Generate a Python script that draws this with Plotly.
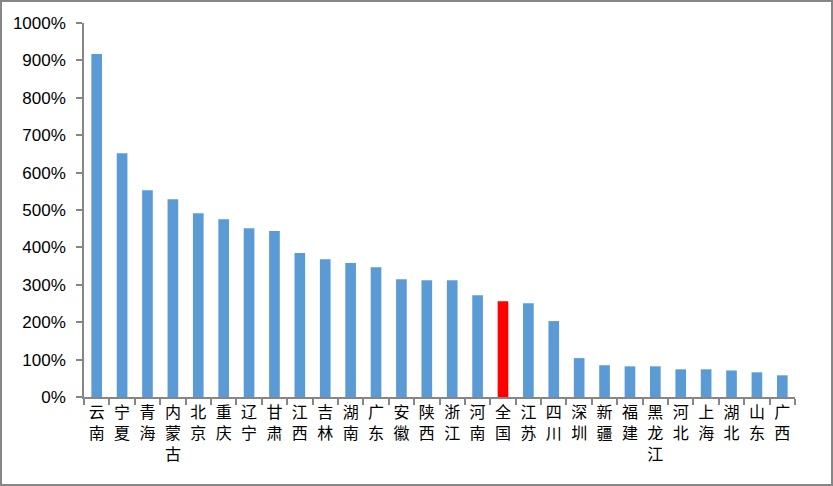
import plotly.graph_objects as go

categories = ["云南", "宁夏", "青海", "内蒙古", "北京", "重庆", "辽宁", "甘肃", "江西", "吉林",
              "湖南", "广东", "安徽", "陕西", "浙江", "河南", "全国", "江苏", "四川", "深圳",
              "新疆", "福建", "黑龙江", "河北", "上海", "湖北", "山东", "广西"]
values = [917, 652, 553, 529, 491, 475, 451, 444, 385, 368,
          358, 347, 315, 312, 312, 272, 256, 251, 203, 104,
          85, 82, 82, 74, 74, 71, 66, 58]
highlight = "全国"

colors = ["#FF0000" if c == highlight else "#5B9BD5" for c in categories]
tick_text = ["<br>".join(list(c)) for c in categories]

W, H = 833, 486
ml, mr, mt, mb = 84, 38, 23, 89

fig = go.Figure(go.Bar(x=categories, y=values, marker=dict(color=colors, line=dict(width=0)),
                       width=0.42))

pw = W - ml - mr
ph = H - mt - mb
fig.add_shape(type="rect", xref="paper", yref="paper",
              x0=(1 - ml) / pw, x1=(W - 1 - ml) / pw,
              y0=-(mb - 1) / ph, y1=(H - 1 - mb) / ph,
              line=dict(color="#868686", width=2), fillcolor="rgba(0,0,0,0)", layer="above")

fig.update_layout(
    width=W, height=H,
    margin=dict(l=ml, r=mr, t=mt, b=mb, autoexpand=False),
    paper_bgcolor="white", plot_bgcolor="white",
    showlegend=False,
    xaxis=dict(tickmode="array", tickvals=categories, ticktext=tick_text,
               tickson="boundaries", ticks="outside", ticklen=6, tickwidth=1.5,
               tickcolor="#868686", showline=True, linecolor="#868686", linewidth=1.5,
               showgrid=False, tickangle=0, automargin=False,
               tickfont=dict(family="Noto Sans CJK SC", size=16, color="black")),
    yaxis=dict(range=[0, 1000], dtick=100, ticksuffix="%", ticks="outside", ticklen=6,
               tickwidth=1.5, tickcolor="#868686", showline=True, linecolor="#868686",
               linewidth=1.5, showgrid=False, zeroline=False, automargin=False,
               ticklabelstandoff=7,
               tickfont=dict(family="Liberation Sans", size=17, color="black")),
)

fig.write_html("out.html", config={"displayModeBar": False},
               post_script="document.body.style.margin='0';document.body.style.overflow='hidden';")
